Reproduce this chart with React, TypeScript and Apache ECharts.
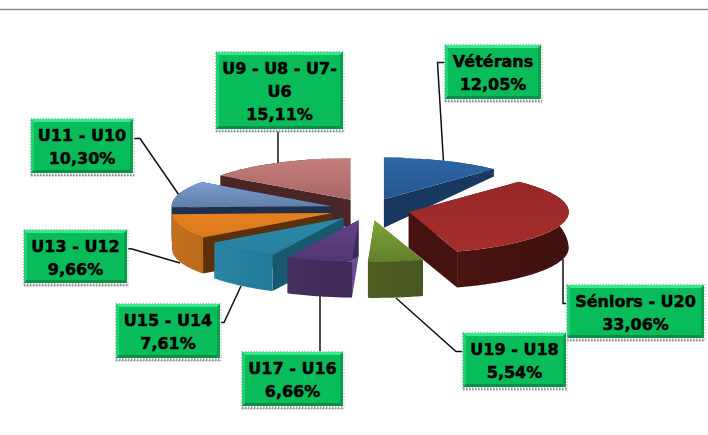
import React, { useEffect, useRef } from "react";
import * as echarts from "echarts";

// ---- data ----
const categories = [
  "Vétérans",
  "Séniors - U20",
  "U19 - U18",
  "U17 - U16",
  "U15 - U14",
  "U13 - U12",
  "U11 - U10",
  "U9 - U8 - U7-\nU6",
];
const shares = [12.05, 33.06, 5.54, 6.66, 7.61, 9.66, 10.3, 15.11];

// ---- style ----
const topColors = [
  ["#2d66a6", "#25578f"],
  ["#962828", "#a62d2c"],
  ["#7da53a", "#627f2c"],
  ["#654189", "#523773"],
  ["#2a8aa8", "#2a7fa0"],
  ["#e5801f", "#da7920"],
  ["#7b9cd0", "#5f7fa6"],
  ["#c47e7e", "#a96565"],
];
const rimColors = [
  ["#1a3f6e", "#1a3f6e"],
  ["#4a1411", "#3f100e"],
  ["#505e21", "#475720"],
  ["#442f5e", "#3e2a58"],
  ["#2a86a6", "#1f7896"],
  ["#c4701f", "#bb691e"],
  ["#1f304c", "#1f304c"],
  ["#4a2626", "#4a2626"],
];
const wallColors = ["#18385f", "#451210", "#4c5a20", "#6a4a90", "#175a70", "#5c3008", "#1f304c", "#4a2626"];
const paintOrder = [1, 5, 7, 6, 4, 3, 2, 0];
const explodeX = [1.13, 1.1, 1.3, 1, 1, 1, 1, 1];

const CENTER = { x: 368, y: 209.5 };
const RADIUS = { x: 160, y: 41.5 };
const EXPLODE = { x: 38, y: 11 };

const boxes = [
  { x: 445, y: 45, w: 96, h: 54 },
  { x: 567, y: 285, w: 137, h: 53 },
  { x: 463, y: 333, w: 103, h: 54 },
  { x: 242, y: 352, w: 101, h: 54 },
  { x: 116, y: 304, w: 104, h: 54 },
  { x: 24, y: 230, w: 103, h: 53 },
  { x: 31, y: 119, w: 102, h: 54 },
  { x: 216, y: 52, w: 127, h: 77 },
];
const leaders = [
  [[445, 62.5], [437.5, 62.5], [443.5, 162]],
  [[567, 303.5], [563, 303.5], [563, 259]],
  [[463, 351.5], [456, 351.5], [396, 298]],
  [[320, 352], [320, 296]],
  [[220, 322.5], [224, 322.5], [241, 286]],
  [[127, 248.5], [132, 249], [180, 263]],
  [[133, 138.5], [140, 138.5], [179, 195]],
  [[278, 129], [278, 163]],
];

const wallDepth = (y: number) => (y >= 210 ? 36 : 36 - (210 - y) * 0.7);
const rad = (d: number) => (d * Math.PI) / 180;
const total = shares.reduce((a, b) => a + b, 0);

function renderSlice(params: any, api: any) {
  const i = params.dataIndex;
  const before = shares.slice(0, i).reduce((a, b) => a + b, 0);
  const a0 = (before / total) * 360;
  const a1 = a0 + (api.value(0) / total) * 360;
  const mid = (a0 + a1) / 2;
  const ax = CENTER.x + EXPLODE.x * explodeX[i] * Math.sin(rad(mid));
  const ay = CENTER.y - EXPLODE.y * Math.cos(rad(mid));
  const arc: number[][] = [];
  const steps = Math.max(4, Math.ceil(a1 - a0));
  for (let s = 0; s <= steps; s++) {
    const a = rad(a0 + ((a1 - a0) * s) / steps);
    arc.push([ax + RADIUS.x * Math.sin(a), ay - RADIUS.y * Math.cos(a)]);
  }
  const down = (p: number[]) => [p[0], p[1] + wallDepth(p[1])];
  const apex = [ax, ay];
  const first = arc[0];
  const last = arc[arc.length - 1];
  const z2 = paintOrder[i];
  const grad = (c: string[], h: boolean) =>
    new echarts.graphic.LinearGradient(0, 0, h ? 1 : 0, h ? 0 : 1, [
      { offset: 0, color: c[0] },
      { offset: 1, color: c[1] },
    ]);
  const poly = (points: number[][], fill: any) => ({
    type: "polygon",
    z2,
    shape: { points },
    style: { fill, stroke: null },
  });
  return {
    type: "group",
    children: [
      poly([apex, down(apex), down(first), first], wallColors[i]),
      poly([apex, down(apex), down(last), last], i === 3 ? "#3e2a58" : wallColors[i]),
      poly([...arc, ...arc.slice().reverse().map(down)], grad(rimColors[i], true)),
      poly([apex, ...arc], grad(topColors[i], false)),
    ],
  };
}

function labelGraphics() {
  const out: any[] = [];
  out.push({
    type: "line",
    shape: { x1: 0, y1: 9.5, x2: 708, y2: 9.5 },
    style: { stroke: "#8c8c8c", lineWidth: 1.5 },
  });
  leaders.forEach((points) => {
    out.push({
      type: "polyline",
      shape: { points },
      style: { stroke: "#111", lineWidth: 1.5, fill: null },
    });
  });
  boxes.forEach((b, i) => {
    const r = b.x + b.w;
    const e = b.y + b.h;
    const bev = 3;
    out.push({
      type: "rect",
      shape: { x: b.x - 0.5, y: b.y - 0.5, width: b.w + 1.5, height: b.h + 3 },
      style: { fill: "#fff", stroke: "#b4b4b4", lineWidth: 1, lineDash: [1.5, 1.5] },
    });
    out.push({
      type: "line",
      shape: { x1: b.x, y1: e + 2, x2: r + 1, y2: e + 2 },
      style: { stroke: "#9a9a9a", lineWidth: 3, lineDash: [1.5, 1.5] },
    });
    out.push({
      type: "rect",
      shape: { x: b.x, y: b.y, width: b.w, height: b.h },
      style: { fill: "#08bc5a" },
    });
    out.push({
      type: "polygon",
      shape: { points: [[b.x, b.y], [r, b.y], [r - bev, b.y + bev], [b.x + bev, b.y + bev]] },
      style: { fill: "#35e88c" },
    });
    out.push({
      type: "polygon",
      shape: { points: [[b.x, b.y], [b.x + bev, b.y + bev], [b.x + bev, e - bev], [b.x, e]] },
      style: { fill: "#1fd273" },
    });
    out.push({
      type: "polygon",
      shape: { points: [[r, b.y], [r - bev, b.y + bev], [r - bev, e - bev], [r, e]] },
      style: { fill: "#0aa04e" },
    });
    out.push({
      type: "polygon",
      shape: { points: [[b.x, e], [b.x + bev, e - bev], [r - bev, e - bev], [r, e]] },
      style: { fill: "#0a8f46" },
    });
    out.push({
      type: "text",
      x: b.x + b.w / 2,
      y: b.y + b.h / 2 + 1,
      style: {
        text: `${categories[i]}\n${shares[i].toFixed(2).replace(".", ",")}%`,
        font: 'bold 16px "DejaVu Sans"',
        fill: "#000",
        stroke: "#000",
        lineWidth: 0.5,
        align: "center",
        verticalAlign: "middle",
        lineHeight: 23,
      },
    });
  });
  return out;
}

export default function App() {
  const ref = useRef<HTMLDivElement>(null);
  useEffect(() => {
    const chart = echarts.init(ref.current!, undefined, { renderer: "svg" });
    chart.setOption({
      animation: false,
      backgroundColor: "#fff",
      series: [
        {
          type: "custom",
          coordinateSystem: "none",
          renderItem: renderSlice,
          silent: true,
          data: shares.map((v, i) => ({ name: categories[i], value: [v] })),
        },
      ],
      graphic: labelGraphics(),
    });
    return () => chart.dispose();
  }, []);
  return <div ref={ref} style={{ position: "fixed", left: 0, top: 0, width: 708, height: 435 }} />;
}
